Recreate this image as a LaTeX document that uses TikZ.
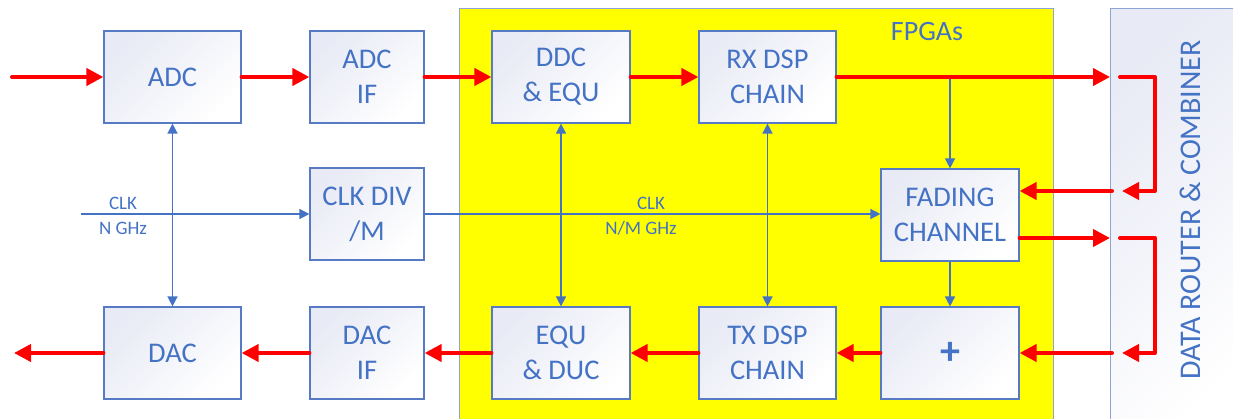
\documentclass[tikz,border=0pt]{standalone}
\usepackage{fontspec}
\setmainfont{Carlito}
\usetikzlibrary{arrows.meta}
\definecolor{boxblue}{RGB}{68,114,196}
\definecolor{edgeblue}{RGB}{86,122,196}
\definecolor{paleblue}{RGB}{140,165,214}
\definecolor{lav}{RGB}{232,234,245}
\definecolor{fpgayellow}{RGB}{255,255,0}
\definecolor{sigred}{RGB}{255,0,0}
\tikzset{
  blockbox/.style={draw=edgeblue, line width=1.2pt, top color=lav, bottom color=white, shading angle=45,
    minimum height=92pt, text=boxblue, align=center, inner sep=0pt,
    font=\fontsize{28.5}{35}\selectfont},
  redarrow/.style={draw=sigred, line width=4pt, line cap=round, line join=round,
    -{Triangle[length=17pt,width=17pt]}},
  bluearrow/.style={draw=boxblue, line width=1.5pt, -{Triangle[length=10pt,width=10pt]}},
  bluedouble/.style={draw=boxblue, line width=1.5pt, {Triangle[length=10pt,width=10pt]}-{Triangle[length=10pt,width=10pt]}},
  bluetext/.style={text=boxblue, font=\fontsize{19}{22}\selectfont, inner sep=0pt},
}
\begin{document}
\begin{tikzpicture}[x=1pt,y=-1pt]
\useasboundingbox (0,0) rectangle (1233,419);
% big regions
\node[draw=paleblue, line width=1pt, fill=fpgayellow, minimum width=594pt, minimum height=430pt, inner sep=0pt, anchor=north west] (fpga) at (459,8) {};
\node[draw=paleblue, line width=1pt, top color=lav, bottom color=white, shading angle=45, minimum width=140pt, minimum height=430pt, inner sep=0pt, anchor=north west] (router) at (1110,8) {};
\node[text=boxblue, font=\fontsize{28}{32}\selectfont, inner sep=0pt] (fpgalabel) at (927,32) {FPGAs};
\node[rotate=90, text=boxblue, font=\fontsize{30}{34}\selectfont, inner sep=0pt] (routerlabel) at (1190,210) {DATA ROUTER \& COMBINER};
% blocks
\node[blockbox, minimum width=137pt] (adc) at (172.5,77) {ADC};
\node[blockbox, minimum width=114pt] (adcif) at (367,77) {ADC\\IF};
\node[blockbox, minimum width=138pt] (ddc) at (561,77) {DDC\\\& EQU};
\node[blockbox, minimum width=137pt] (rx) at (767.5,77) {RX DSP\\CHAIN};
\node[blockbox, minimum width=114pt] (clkdiv) at (367,214) {CLK DIV\\/M};
\node[blockbox, minimum width=138pt] (fading) at (950,215) {FADING\\CHANNEL};
\node[blockbox, minimum width=137pt] (dac) at (172.5,353) {DAC};
\node[blockbox, minimum width=114pt] (dacif) at (367,353) {DAC\\IF};
\node[blockbox, minimum width=138pt] (equ) at (561,353) {EQU\\\& DUC};
\node[blockbox, minimum width=137pt] (tx) at (767.5,353) {TX DSP\\CHAIN};
\node[blockbox, minimum width=138pt, font=\fontsize{40}{40}\bfseries] (plus) at (950,353) {+};
% coordinates
\coordinate (rfin) at (12,77);
\coordinate (rfout) at (14,353);
\coordinate (clkin) at (81,214);
\coordinate (branch) at (fading.north |- rx.east);
\coordinate (l1a) at (1120,77);
\coordinate (l1c) at (1155,191);
\coordinate (l1d) at (1122,191);
\coordinate (r1) at (1112,191);
\coordinate (l2a) at (1120,238);
\coordinate (l2c) at (1155,353);
\coordinate (l2d) at (1122,353);
\coordinate (r2) at (1112,353);
% blue connectors
\draw[bluearrow] (clkin) -- (clkdiv.west);
\draw[bluearrow] (clkdiv.east) -- (fading.west |- clkdiv.east);
\draw[bluedouble] (adc.south) -- (dac.north);
\draw[bluedouble] (ddc.south) -- (equ.north);
\draw[bluedouble] (rx.south) -- (tx.north);
\draw[bluearrow] (branch) -- (fading.north);
\draw[bluearrow] (fading.south) -- (plus.north);
\node[bluetext] (clk1) at (123,203) {CLK};
\node[bluetext] (ngh) at (123,228) {N GHz};
\node[bluetext] (clk2) at (651,203) {CLK};
\node[bluetext] (nmgh) at (641,228) {N/M GHz};
% red connectors
\draw[redarrow] (rfin) -- (adc.west);
\draw[redarrow] (adc.east) -- (adcif.west);
\draw[redarrow] (adcif.east) -- (ddc.west);
\draw[redarrow] (ddc.east) -- (rx.west);
\draw[redarrow] (rx.east) -- (router.west |- rx.east);
\draw[redarrow] (l1a) -| (l1c) -- (l1d);
\draw[redarrow] (r1) -- (fading.east |- r1);
\draw[redarrow] (fading.east |- l2a) -- (router.west |- l2a);
\draw[redarrow] (l2a) -| (l2c) -- (l2d);
\draw[redarrow] (r2) -- (plus.east);
\draw[redarrow] (plus.west) -- (tx.east);
\draw[redarrow] (tx.west) -- (equ.east);
\draw[redarrow] (equ.west) -- (dacif.east);
\draw[redarrow] (dacif.west) -- (dac.east);
\draw[redarrow] (dac.west) -- (rfout);
\end{tikzpicture}
\end{document}
